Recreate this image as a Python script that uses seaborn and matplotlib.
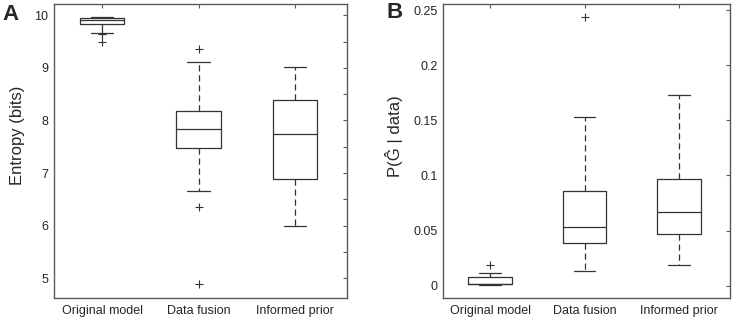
import numpy as np
import pandas as pd
import matplotlib
matplotlib.use("Agg")
import matplotlib.pyplot as plt
import matplotlib.ticker as mticker
import seaborn as sns

# groups
groups = ["Original model", "Data fusion", "Informed prior"]

# panel A - entropy (bits)
ent_original = [9.487, 9.640, 9.650, 9.660, 9.670, 9.829, 9.848, 9.86, 9.875, 9.89, 9.905,
                9.92, 9.93, 9.938, 9.944, 9.95, 9.954, 9.958, 9.962, 9.966, 9.97, 9.973]
ent_fusion = [4.886, 6.356, 6.665, 7.05, 7.30, 7.47, 7.55, 7.62, 7.70, 7.77,
              7.83, 7.90, 7.98, 8.05, 8.12, 8.175, 8.35, 8.60, 8.85, 9.106, 9.36]
ent_prior = [6.00, 6.30, 6.50, 6.65, 6.78, 6.882, 7.05, 7.25, 7.45, 7.60,
             7.738, 7.85, 8.00, 8.15, 8.28, 8.395, 8.50, 8.62, 8.75, 8.88, 9.01]

# panel B - P(G^ | data)
p_original = [0.0008, 0.0009, 0.0010, 0.0010, 0.0011, 0.0011, 0.0012, 0.0012, 0.0012, 0.0013,
              0.0013, 0.0020, 0.0035, 0.0050, 0.0062, 0.0074, 0.0082, 0.0090, 0.0098, 0.0113, 0.0183]
p_fusion = [0.0131, 0.020, 0.026, 0.031, 0.035, 0.0383, 0.041, 0.044, 0.047, 0.050,
            0.0528, 0.058, 0.064, 0.071, 0.078, 0.0860, 0.095, 0.108, 0.125, 0.153, 0.2437]
p_prior = [0.0183, 0.025, 0.031, 0.037, 0.042, 0.0464, 0.050, 0.054, 0.058, 0.062,
           0.0666, 0.071, 0.076, 0.082, 0.089, 0.0972, 0.110, 0.125, 0.140, 0.155, 0.1728]


def long_df(vals):
    return pd.concat([pd.DataFrame({"group": g, "value": v}) for g, v in zip(groups, vals)])


dfA = long_df([ent_original, ent_fusion, ent_prior])
dfB = long_df([p_original, p_fusion, p_prior])

sns.set_style("white")
plt.rcParams["font.family"] = ["Liberation Sans", "DejaVu Sans"]

fig = plt.figure(figsize=(7.33, 3.2), dpi=100)
axA = fig.add_axes([54 / 733, 22 / 320, 293 / 733, 294 / 320])
axB = fig.add_axes([443 / 733, 22 / 320, 287 / 733, 294 / 320])

box_col = "#333333"
spine_col = "#5a5a5a"


def draw(ax, df):
    sns.boxplot(data=df, x="group", y="value", ax=ax, order=groups,
                fill=False, color=box_col, linewidth=0.9, width=0.46, whis=1.5,
                whiskerprops=dict(linestyle=(0, (5, 3))),
                flierprops=dict(marker="+", markersize=6, markeredgecolor=box_col,
                                markeredgewidth=0.8))
    ax.set_xlim(-0.5, 2.54)
    ax.set_xlabel("")
    for s in ax.spines.values():
        s.set_visible(True)
        s.set_color(spine_col)
        s.set_linewidth(1.0)
    ax.tick_params(axis="both", which="both", direction="in", top=True, right=True,
                   length=3, width=0.8, color=spine_col, labelsize=9, pad=4)
    ax.tick_params(axis="x", pad=5)


draw(axA, dfA)
axA.set_ylim(4.625, 10.215)
axA.yaxis.set_major_locator(mticker.MultipleLocator(1))
axA.yaxis.set_minor_locator(mticker.MultipleLocator(0.5))
axA.yaxis.set_major_formatter(mticker.FormatStrFormatter("%g"))
axA.set_ylabel("Entropy (bits)", fontsize=12)
axA.yaxis.set_label_coords(-0.099, 0.553)

draw(axB, dfB)
axB.set_ylim(-0.0113, 0.2558)
axB.yaxis.set_major_locator(mticker.MultipleLocator(0.05))
axB.yaxis.set_major_formatter(mticker.FormatStrFormatter("%g"))
axB.set_ylabel("P(Ĝ | data)", fontsize=12)
axB.yaxis.set_label_coords(-0.139, 0.55)

fig.text(2 / 733, 1 - 14 / 320, "A", ha="left", va="center", fontsize=16, fontweight="bold")
fig.text(386 / 733, 1 - 12 / 320, "B", ha="left", va="center", fontsize=16, fontweight="bold")

fig.savefig("out.png", dpi=100)
